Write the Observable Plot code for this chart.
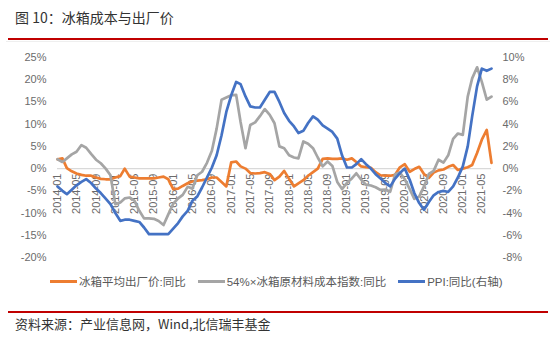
<!DOCTYPE html>
<html><head><meta charset="utf-8">
<script src="https://cdn.jsdelivr.net/npm/d3@7"></script>
<script src="https://cdn.jsdelivr.net/npm/@observablehq/plot@0.6"></script>
<style>
html,body{margin:0;padding:0;background:#fff}
body{width:550px;height:346px;overflow:hidden;position:relative;font-family:"Noto Sans CJK SC","Noto Sans",sans-serif}
#title{position:absolute;left:15px;top:7px;font-size:14px;color:#333;white-space:nowrap;line-height:20px}
.redline{position:absolute;left:8px;width:540px;height:2px;background:#c00000}
.faint{position:absolute;left:6px;width:544px;height:1px;background:#efefef}
#chart{position:absolute;left:0;top:40px}
#legend{position:absolute;left:50px;top:272px;height:18px;display:flex;align-items:center;font-family:"Liberation Sans","Noto Sans CJK SC",sans-serif;font-size:11.5px;color:#595959;white-space:nowrap}
#legend .item{display:flex;align-items:center;margin-right:12px}
#legend .sw{width:27px;height:3px;margin-right:2px}
#source{position:absolute;left:15px;top:315px;font-size:13px;color:#333;white-space:nowrap;line-height:18px}
</style></head><body>
<div id="title">图 10：冰箱成本与出厂价</div>
<div class="redline" style="top:38px"></div>
<div class="faint" style="top:41px"></div>
<div id="chart"></div>
<div id="legend"></div>
<div class="redline" style="top:311px"></div>
<div id="source">资料来源：产业信息网，Wind,北信瑞丰基金</div>
<script>
// Categories: monthly from 2014-01 to 2021-07
const startMonth = "2014-01";
const endMonth = "2021-07";
const xTickLabels = ["2014-01","2014-05","2014-09","2015-01","2015-05","2015-09","2016-01","2016-05","2016-09","2017-01","2017-05","2017-09","2018-01","2018-05","2018-09","2019-01","2019-05","2019-09","2020-01","2020-05","2020-09","2021-01","2021-05"];
const leftTicks = [25,20,15,10,5,0,-5,-10,-15,-20];
const rightTicks = [10,8,6,4,2,0,-2,-4,-6,-8];

const seriesNames = ["冰箱平均出厂价:同比","54%×冰箱原材料成本指数:同比","PPI:同比(右轴)"];
const seriesColors = ["#ED7D31","#A5A5A5","#4472C4"];

// 冰箱平均出厂价:同比 (left axis, %)
const orange = [2.1,2.3,0.1,-0.6,-1.1,-1.4,-1.6,-1.6,-2.0,-2.3,
-2.4,-2.4,-2.0,-1.7,0.0,-1.8,-2.0,-2.2,-2.2,-2.2,
-2.2,-2.0,-1.8,-2.4,-4.6,-4.5,-3.9,-3.3,-2.9,-2.7,
-2.6,-2.4,-2.0,-2.0,-3.0,-4.0,1.4,1.6,0.5,0.0,
-1.0,-1.1,-1.0,-0.8,-1.2,-2.6,-1.8,-0.5,-2.3,-4.0,
-3.3,-2.6,-1.6,-0.8,0.0,2.2,2.3,2.2,2.2,2.3,
2.0,2.3,1.5,0.5,0.3,0.2,-0.8,-1.5,-1.6,-1.6,
-1.4,0.3,1.0,-0.7,-0.1,0.4,-1.2,-2.1,-0.9,-0.4,
-0.2,0.4,0.8,-0.3,0.0,0.3,0.8,3.5,6.5,8.7,
1.3];

// 54%×冰箱原材料成本指数:同比 (left axis, %)
const gray = [2.1,1.5,2.3,3.2,3.8,5.3,4.7,3.3,2.0,1.2,
0.0,-1.5,-8.0,-7.6,-6.7,-6.5,-7.2,-9.5,-11.2,-11.2,
-11.3,-11.8,-12.7,-10.3,-7.9,-6.7,-5.9,-4.1,-4.5,-1.5,
-0.7,1.3,4.0,9.0,15.5,16.0,16.5,16.6,10.5,4.6,
9.8,10.4,11.8,13.4,12.1,10.2,5.0,4.6,3.0,2.5,
2.3,6.1,5.6,4.6,2.5,0.5,1.6,0.6,-3.0,-4.6,
-3.2,-2.2,-1.05,-2.5,-3.6,-3.8,-4.2,-4.8,-4.7,-5.2,
-1.3,-0.9,-2.4,-4.6,-6.8,-6.3,-4.0,-1.2,-0.5,2.0,
1.35,3.0,6.7,7.9,7.6,16.2,20.3,22.8,19.5,15.5,
16.2];

// PPI:同比 (right axis, %)
const blue = [-1.6,-2.0,-2.3,-1.9,-1.5,-1.2,-0.95,-1.3,-1.8,-2.2,
-2.7,-3.2,-4.0,-4.7,-4.6,-4.6,-4.7,-4.8,-5.3,-5.9,
-5.9,-5.9,-5.9,-5.9,-5.4,-4.9,-4.3,-3.8,-2.9,-2.5,
-1.7,-0.8,0.1,1.2,3.0,5.1,6.6,7.8,7.6,6.5,
5.6,5.5,5.5,6.2,6.9,6.9,6.0,5.0,4.3,3.8,
3.2,3.4,4.1,4.7,4.4,3.9,3.6,3.3,2.7,1.2,
0.1,0.1,0.4,0.85,0.4,0.0,-0.5,-0.9,-1.3,-1.6,
-0.9,-0.4,0.0,-1.0,-2.2,-3.1,-3.7,-3.0,-2.4,-2.1,
-2.0,-2.1,-1.6,-0.8,0.2,2.0,4.7,7.4,9.0,8.8,
9.0];

const parseMonth = d3.utcParse("%Y-%m");
const months = d3.utcMonth.range(parseMonth(startMonth), d3.utcMonth.offset(parseMonth(endMonth), 1));

// Right axis (-8..10) mapped onto left axis (-20..25)
const RATIO = (leftTicks[0] - leftTicks[leftTicks.length-1]) / (rightTicks[0] - rightTicks[rightTicks.length-1]);

const lineOpts = (color) => ({x: (d, i) => months[i], y: d => d, stroke: color, strokeWidth: 2.7, strokeLinejoin: "round", strokeLinecap: "round"});

const chart = Plot.plot({
  width: 550,
  height: 230,
  marginTop: 17,
  marginBottom: 13,
  marginLeft: 57,
  marginRight: 59,
  x: {type: "utc", domain: [months[0], months[months.length - 1]], axis: null},
  y: {domain: [leftTicks[leftTicks.length-1], leftTicks[0]]},
  style: {fontFamily: "'Liberation Sans', Arial, sans-serif", fontSize: "11px", color: "#6b6b6b", background: "transparent", overflow: "visible"},
  marks: [
    Plot.ruleY([0], {stroke: "#d9d9d9", strokeWidth: 1.2}),
    Plot.axisY(leftTicks, {anchor: "left", tickSize: 0, tickPadding: 11, tickFormat: d => d + "%", label: null}),
    Plot.axisY(rightTicks.map(t => t * RATIO), {anchor: "right", tickSize: 0, tickPadding: 11, tickFormat: d => Math.round(d / RATIO) + "%", label: null}),
    Plot.text(xTickLabels, {x: d => parseMonth(d), y: 0, text: d => d, rotate: -90, textAnchor: "end", lineAnchor: "middle", dy: 5, fill: "#6b6b6b", fontSize: 11}),
    Plot.line(orange, lineOpts(seriesColors[0])),
    Plot.line(gray, lineOpts(seriesColors[1])),
    Plot.line(blue, {...lineOpts(seriesColors[2]), y: d => d * RATIO})
  ]
});
document.getElementById("chart").appendChild(chart);

const legend = document.getElementById("legend");
seriesNames.forEach((name, i) => {
  const item = document.createElement("div");
  item.className = "item";
  const sw = document.createElement("span");
  sw.className = "sw";
  sw.style.background = seriesColors[i];
  const tx = document.createElement("span");
  tx.textContent = name;
  item.appendChild(sw);
  item.appendChild(tx);
  legend.appendChild(item);
});
</script>
</body></html>
